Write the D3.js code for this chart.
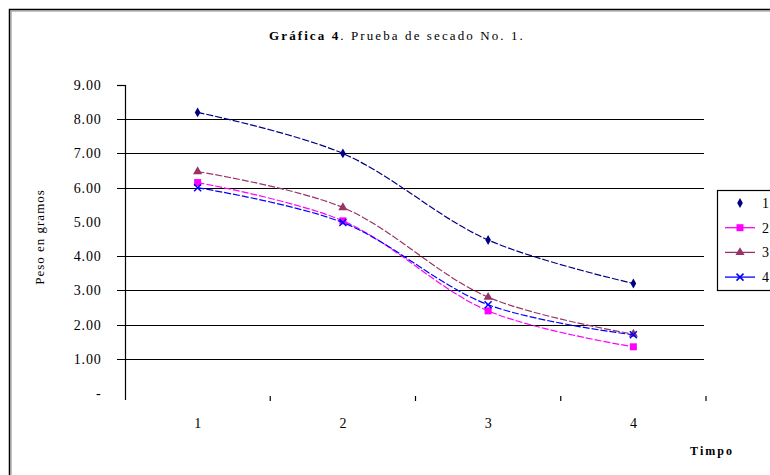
<!DOCTYPE html>
<html>
<head>
<meta charset="utf-8">
<script src="https://cdn.jsdelivr.net/npm/d3@7"></script>
<style>
  body { margin: 0; background: #fff; }
  text { font-family: "Liberation Serif", "DejaVu Serif", serif; fill: #000; }
</style>
</head>
<body>
<div id="vis"></div>
<script>
const WIDTH = 770;
const HEIGHT = 475;

// data
const tiempos = ["1", "2", "3", "4"];
const serie1 = [8.2, 7.0, 4.47, 3.2];
const serie2 = [6.15, 5.03, 2.4, 1.35];
const serie3 = [6.47, 5.42, 2.8, 1.72];
const serie4 = [6.0, 4.98, 2.58, 1.7];
const yTicks = [0, 1, 2, 3, 4, 5, 6, 7, 8, 9];
const gridValues = [1, 2, 3, 4, 6, 7, 8];
const nombres = ["1", "2", "3", "4"];

const series = [
  { name: nombres[0], values: serie1, colour: "#000080", marker: "diamond" },
  { name: nombres[1], values: serie2, colour: "#ff00ff", marker: "square" },
  { name: nombres[2], values: serie3, colour: "#993366", marker: "triangle" },
  { name: nombres[3], values: serie4, colour: "#0000ff", marker: "x" }
];

const svg = d3.select("#vis").append("svg")
  .attr("width", WIDTH)
  .attr("height", HEIGHT);

// outer frame, black line with a grey line inside
svg.append("rect")
  .attr("x", 9.5).attr("y", 9.5)
  .attr("width", 820).attr("height", 520)
  .attr("fill", "none").attr("stroke", "#000").attr("stroke-width", 1.5);
svg.append("rect")
  .attr("x", 11).attr("y", 11)
  .attr("width", 820).attr("height", 520)
  .attr("fill", "none").attr("stroke", "#888").attr("stroke-width", 1);

const x = d3.scaleBand().domain(tiempos).range([125, 706]);
const y = d3.scaleLinear().domain([0, 9]).range([393, 85]);

// gridlines
svg.append("g").selectAll("line")
  .data(gridValues)
  .join("line")
  .attr("x1", 117).attr("x2", 704)
  .attr("y1", d => Math.round(y(d)) + 0.5)
  .attr("y2", d => Math.round(y(d)) + 0.5)
  .attr("stroke", "#000").attr("stroke-width", 1.2);

// y axis
const yAxis = d3.axisLeft(y)
  .tickValues(yTicks)
  .tickSize(0)
  .tickPadding(24)
  .tickFormat(d => d === 0 ? "-" : d3.format(".2f")(d));
svg.append("g")
  .attr("transform", "translate(125.5,0)")
  .call(yAxis)
  .call(g => g.select(".domain").remove())
  .call(g => g.selectAll("text")
    .attr("font-size", 14)
    .attr("letter-spacing", "0.8px")
    .attr("font-family", "Liberation Serif, serif"));

svg.append("line")
  .attr("x1", 125.5).attr("x2", 125.5)
  .attr("y1", y(9)).attr("y2", 400)
  .attr("stroke", "#000").attr("stroke-width", 1.2);
svg.append("line")
  .attr("x1", 117).attr("x2", 125.5)
  .attr("y1", Math.round(y(9)) + 0.5).attr("y2", Math.round(y(9)) + 0.5)
  .attr("stroke", "#000").attr("stroke-width", 1.2);

// x axis: only small tick marks at band edges, no line
svg.append("g").selectAll("line")
  .data(tiempos)
  .join("line")
  .attr("x1", d => x(d) + x.bandwidth())
  .attr("x2", d => x(d) + x.bandwidth())
  .attr("y1", 396).attr("y2", 401)
  .attr("stroke", "#000").attr("stroke-width", 1.2);

svg.append("g").selectAll("text")
  .data(tiempos)
  .join("text")
  .attr("x", d => x(d) + x.bandwidth() / 2)
  .attr("y", 428)
  .attr("text-anchor", "middle")
  .attr("font-size", 14)
  .text(d => d);

// axis titles
svg.append("text")
  .attr("x", 712).attr("y", 455)
  .attr("text-anchor", "middle")
  .attr("font-size", 12)
  .attr("letter-spacing", "2px")
  .attr("font-family", "Liberation Mono, monospace")
  .attr("font-weight", "bold")
  .text("Timpo");

svg.append("text")
  .attr("transform", "translate(44,237) rotate(-90)")
  .attr("text-anchor", "middle")
  .attr("font-size", 13)
  .attr("letter-spacing", "1px")
  .text("Peso en gramos");

// title
const title = svg.append("text")
  .attr("x", 397).attr("y", 40)
  .attr("text-anchor", "middle")
  .attr("font-size", 13)
  .attr("letter-spacing", "2.1px");
title.append("tspan").attr("font-weight", "bold").text("Gráfica 4");
title.append("tspan").text(". Prueba de secado No. 1.");

// lines
const line = d3.line()
  .x((d, i) => x(tiempos[i]) + x.bandwidth() / 2)
  .y(d => y(d))
  .curve(d3.curveCatmullRom.alpha(0.5));

function drawMarker(g, type, colour) {
  if (type === "diamond") {
    g.append("path").attr("d", d3.symbol(d3.symbolDiamond, 28)()).attr("fill", colour);
  } else if (type === "square") {
    g.append("rect").attr("x", -3.5).attr("y", -3.5).attr("width", 7).attr("height", 7).attr("fill", colour);
  } else if (type === "triangle") {
    g.append("path").attr("d", d3.symbol(d3.symbolTriangle, 36)()).attr("fill", colour);
  } else {
    g.append("path").attr("d", "M-3.5,-3.5L3.5,3.5M-3.5,3.5L3.5,-3.5")
      .attr("stroke", colour).attr("stroke-width", 1.5).attr("fill", "none");
  }
}

series.forEach(s => {
  svg.append("path")
    .datum(s.values)
    .attr("d", line)
    .attr("fill", "none")
    .attr("stroke", s.colour)
    .attr("stroke-width", 1.2)
    .attr("stroke-dasharray", "7,2");
  s.values.forEach((v, i) => {
    const g = svg.append("g")
      .attr("transform", `translate(${x(tiempos[i]) + x.bandwidth() / 2},${y(v)})`);
    drawMarker(g, s.marker, s.colour);
  });
});

// legend, cut by the right edge
const legend = svg.append("g");
legend.append("rect")
  .attr("x", 717.5).attr("y", 190.5)
  .attr("width", 100).attr("height", 100)
  .attr("fill", "#fff").attr("stroke", "#000").attr("stroke-width", 1.2);
series.forEach((s, i) => {
  const ly = 203 + i * 24.7;
  if (s.marker !== "diamond") {
    legend.append("line")
      .attr("x1", 725).attr("x2", 755)
      .attr("y1", ly).attr("y2", ly)
      .attr("stroke", s.colour).attr("stroke-width", 1.3);
  }
  const g = legend.append("g").attr("transform", `translate(740,${ly})`);
  drawMarker(g, s.marker, s.colour);
  legend.append("text")
    .attr("x", 762).attr("y", ly + 5)
    .attr("font-size", 14)
    .text(s.name);
});
</script>
</body>
</html>
